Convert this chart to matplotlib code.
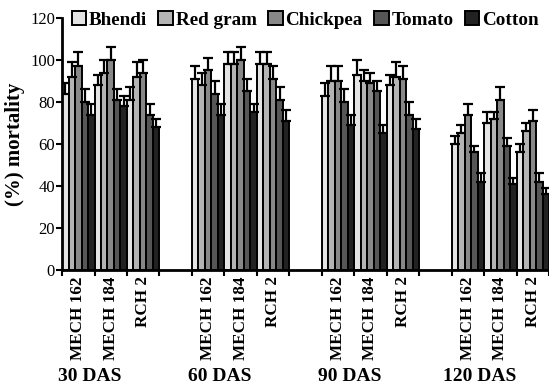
import numpy as np
import matplotlib
matplotlib.use("Agg")
import matplotlib.pyplot as plt

plt.rcParams['font.family'] = ['Liberation Serif', 'DejaVu Serif']

# Data (one slot per variety, per sampling date)
stages = ["30 DAS", "60 DAS", "90 DAS", "120 DAS"]
varieties = ["MECH 162", "MECH 184", "RCH 2"]
crops = ["Bhendi", "Red gram", "Chickpea", "Tomato", "Cotton"]

# mortality (%) per slot: [Bhendi, Red gram, Chickpea, Tomato, Cotton]
bhendi = [84, 88, 81, 91, 98, 98, 83, 93, 88, 60, 70, 56]
red_gram = [92, 94, 92, 88, 98, 98, 90, 90, 92, 65, 72, 66]
chickpea = [97, 100, 94, 95, 100, 91, 90, 89, 91, 74, 81, 71]
tomato = [80, 81, 74, 84, 85, 81, 80, 85, 74, 56, 59, 42]
cotton = [74, 78, 68, 74, 75, 71, 69, 65, 67, 42, 41, 36]

# upper error bar lengths
err_bhendi = [5, 5, 6, 6, 6, 6, 6, 7, 5, 4, 5, 4]
err_red_gram = [7, 6, 7, 6, 6, 6, 7, 5, 7, 4, 3, 4]
err_chickpea = [7, 6, 6, 6, 6, 6, 7, 5, 6, 5, 6, 5]
err_tomato = [6, 5, 5, 6, 6, 6, 6, 5, 6, 3, 4, 4]
err_cotton = [5, 5, 4, 5, 4, 5, 5, 4, 5, 4, 3, 3]

colors = ['#e4e4e4', '#b4b4b4', '#888888', '#565656', '#222222']

values = [bhendi, red_gram, chickpea, tomato, cotton]
errors = [err_bhendi, err_red_gram, err_chickpea, err_tomato, err_cotton]

fig = plt.figure(figsize=(5.49, 3.90), dpi=100)
ax = fig.add_axes([0.113, 0.308, 0.887, 0.646])

# slot positions: 3 varieties per stage plus an empty slot between stages
slots = []
for g in range(len(stages)):
    for v in range(len(varieties)):
        slots.append(g * 4 + v)
slots = np.array(slots)

width = 0.2
for k, (crop, vals, errs) in enumerate(zip(crops, values, errors)):
    x = slots + 0.1 + width * k
    ax.bar(x, vals, width=width, color=colors[k], edgecolor='black',
           linewidth=1.4, label=crop, zorder=2)
    ax.errorbar(x, vals, yerr=[np.zeros(len(errs)), errs], fmt='none',
                ecolor='black', elinewidth=1.6, capsize=3.5, capthick=1.6,
                zorder=3)

ax.set_xlim(0, 15)
ax.set_ylim(0, 120)
ax.set_yticks(range(0, 121, 20))
ax.tick_params(axis='y', labelsize=12, width=1.5, length=4, pad=1)
ax.set_ylabel("(%) mortality", fontsize=15, fontweight='bold', labelpad=4)

# slot boundaries as ticks, variety names at slot centres
ax.set_xticks(np.arange(0, 16))
ax.set_xticklabels([])
ax.tick_params(axis='x', width=1.5, length=4)
for s, name in zip(slots, varieties * len(stages)):
    ax.text(s + 0.5, -3, name, rotation=90, ha='center', va='top',
            fontsize=12.3, fontweight='bold', transform=ax.transData,
            clip_on=False)

for g, stage in enumerate(stages):
    ax.text(g * 4 + 0.85, -0.425, stage, ha='center', va='center',
            fontsize=14, fontweight='bold',
            transform=ax.get_xaxis_transform())

for side in ['top', 'right']:
    ax.spines[side].set_visible(False)
for side in ['left', 'bottom']:
    ax.spines[side].set_linewidth(2)

ax.legend(loc='upper left', bbox_to_anchor=(0.0, 1.065), ncol=5,
          frameon=False, handlelength=0.75, handleheight=0.75,
          handletextpad=0.15, columnspacing=0.6, borderpad=0,
          prop={'weight': 'bold', 'size': 13.8})

fig.savefig("out.png", dpi=100)
